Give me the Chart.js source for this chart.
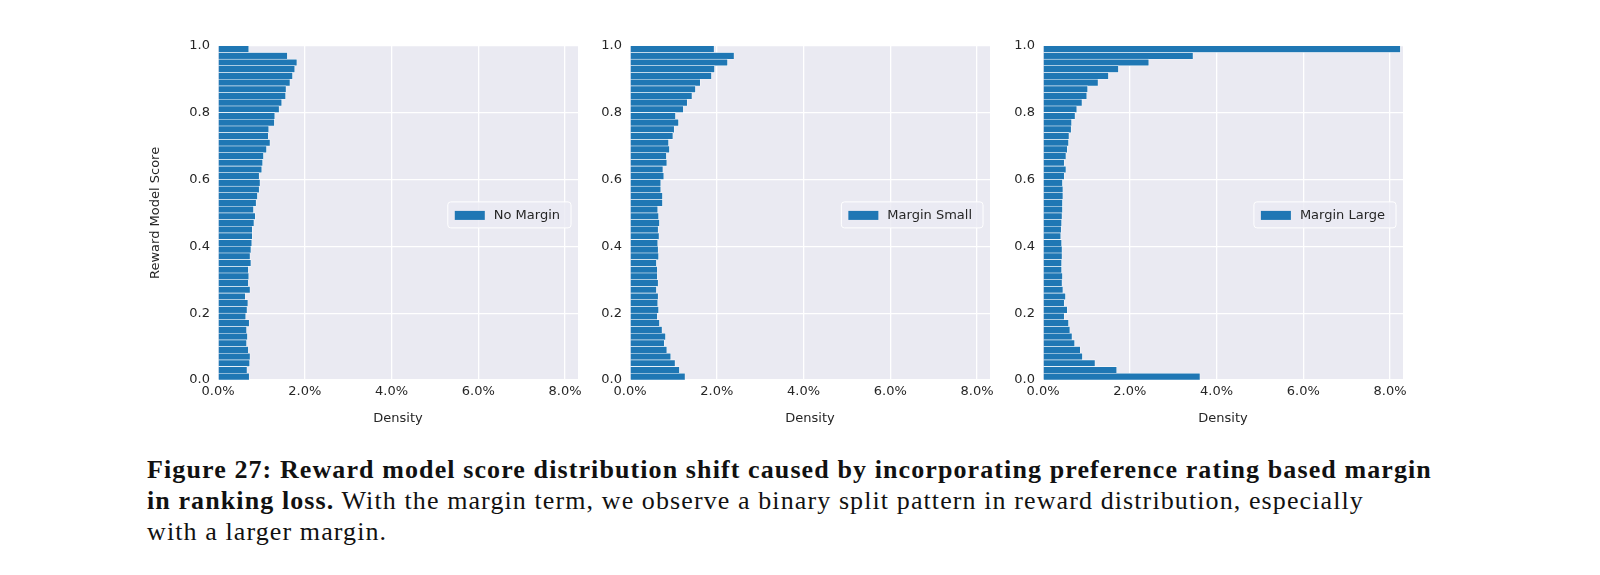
<!DOCTYPE html>
<html>
<head>
<meta charset="utf-8">
<script src="https://cdn.jsdelivr.net/npm/chart.js@4.4.1/dist/chart.umd.min.js"></script>
<style>
  body { margin: 0; background: #fff; width: 1600px; height: 575px; position: relative; overflow: hidden; }
  .panel { position: absolute; top: 30px; width: 445px; height: 400px; }
  .caption { position: absolute; left: 147px; top: 454px; width: 1400px; font-family: 'Liberation Serif', serif; font-size: 26px; letter-spacing: 1.1px; line-height: 31px; color: #111; }
</style>
</head>
<body>
<div class="panel" style="left:148px"><canvas id="c0"></canvas></div>
<div class="panel" style="left:560px"><canvas id="c1"></canvas></div>
<div class="panel" style="left:973px"><canvas id="c2"></canvas></div>
<div class="caption">
  <b>Figure 27: Reward model score distribution shift caused by incorporating preference rating based margin<br>in ranking loss.</b> With the margin term, we observe a binary split pattern in reward distribution, especially<br>with a larger margin.
</div>
<script>
// ===== Data (density in %, bins listed from score 1.0 down to 0.0) =====
const binCenters = [];
for (let i = 49; i >= 0; i--) binCenters.push((i + 0.5) / 50);

const noMargin = [0.71, 1.60, 1.82, 1.77, 1.72, 1.66, 1.57, 1.56, 1.47, 1.41,
  1.31, 1.30, 1.17, 1.16, 1.20, 1.12, 1.05, 1.03, 1.01, 0.95,
  0.97, 0.95, 0.91, 0.88, 0.82, 0.86, 0.83, 0.79, 0.79, 0.78,
  0.76, 0.74, 0.76, 0.70, 0.71, 0.70, 0.74, 0.63, 0.69, 0.67,
  0.64, 0.72, 0.66, 0.68, 0.66, 0.70, 0.74, 0.73, 0.67, 0.72];
const marginSmall = [1.94, 2.40, 2.25, 1.95, 1.88, 1.62, 1.51, 1.43, 1.32, 1.23,
  1.05, 1.12, 1.02, 0.99, 0.89, 0.91, 0.84, 0.85, 0.76, 0.78,
  0.71, 0.71, 0.75, 0.75, 0.64, 0.66, 0.68, 0.65, 0.67, 0.64,
  0.65, 0.66, 0.61, 0.63, 0.63, 0.65, 0.61, 0.65, 0.64, 0.66,
  0.63, 0.68, 0.74, 0.82, 0.79, 0.85, 0.94, 1.04, 1.14, 1.27];
const marginLarge = [8.24, 3.46, 2.44, 1.74, 1.51, 1.27, 1.03, 1.01, 0.90, 0.78,
  0.74, 0.66, 0.65, 0.60, 0.59, 0.56, 0.53, 0.49, 0.53, 0.49,
  0.45, 0.46, 0.46, 0.45, 0.45, 0.44, 0.43, 0.42, 0.41, 0.43,
  0.44, 0.44, 0.43, 0.43, 0.45, 0.44, 0.46, 0.52, 0.49, 0.56,
  0.49, 0.59, 0.62, 0.67, 0.73, 0.86, 0.91, 1.20, 1.70, 3.62];

const seriesNames = ['No Margin', 'Margin Small', 'Margin Large'];
const seriesValues = [noMargin, marginSmall, marginLarge];
const xTicks = [0, 2, 4, 6, 8];
const yTicks = [0, 0.2, 0.4, 0.6, 0.8, 1.0];

const BLUE = '#1f77b4';
const FONT = 'DejaVu Sans';

// seaborn-like background + legend box inside plot area
const sheet = {
  id: 'sheet',
  beforeDraw(chart) {
    const { ctx, chartArea: a } = chart;
    ctx.save();
    ctx.fillStyle = '#eaeaf2';
    ctx.fillRect(a.left, a.top, a.right - a.left, a.bottom - a.top);
    ctx.restore();
  },
  afterDraw(chart) {
    const { ctx, chartArea: a } = chart;
    const label = chart.data.datasets[0].label;
    ctx.save();
    ctx.font = '13px ' + FONT;
    const w = ctx.measureText(label).width + 57;
    const h = 26;
    const x = a.right - 7 - w;
    const y = (a.top + a.bottom) / 2 - h / 2 + 2;
    ctx.fillStyle = 'rgba(234,234,242,0.8)';
    ctx.strokeStyle = '#ffffff';
    ctx.lineWidth = 1;
    ctx.beginPath();
    ctx.roundRect(x, y, w, h, 3);
    ctx.fill();
    ctx.stroke();
    ctx.fillStyle = BLUE;
    ctx.fillRect(x + 7, y + 9, 30, 9);
    ctx.fillStyle = '#262626';
    ctx.textBaseline = 'middle';
    ctx.fillText(label, x + 46, y + h / 2 + 1);
    ctx.restore();
  }
};

seriesValues.forEach((vals, i) => {
  new Chart(document.getElementById('c' + i), {
    type: 'bar',
    data: {
      datasets: [{
        label: seriesNames[i],
        data: vals.map((v, k) => ({ x: v, y: binCenters[k] })),
        backgroundColor: BLUE,
        borderColor: '#ffffff',
        borderWidth: 0.6,
        barPercentage: 1,
        categoryPercentage: 1
      }]
    },
    options: {
      indexAxis: 'y',
      responsive: true,
      maintainAspectRatio: false,
      animation: false,
      layout: { autoPadding: false, padding: { top: 10, right: 15, left: 0, bottom: 0 } },
      plugins: { legend: { display: false }, tooltip: { enabled: false } },
      scales: {
        x: {
          type: 'linear', min: 0, max: 8.3, offset: false,
          afterBuildTicks: (s) => { s.ticks = xTicks.map(v => ({ value: v })); },
          afterFit: (s) => { s.height = 50; },
          grid: { color: '#ffffff', lineWidth: 1.3, drawTicks: false, offset: false },
          border: { display: false },
          ticks: { color: '#262626', font: { family: FONT, size: 13 }, padding: 4, callback: v => v.toFixed(1) + '%' },
          title: { display: true, text: 'Density', color: '#262626', font: { family: FONT, size: 13 }, padding: { top: 0, bottom: 4 } }
        },
        y: {
          type: 'linear', min: 0, max: 1, offset: false,
          afterBuildTicks: (s) => { s.ticks = yTicks.map(v => ({ value: v })); },
          afterFit: (s) => { s.width = 70; },
          grid: { color: '#ffffff', lineWidth: 1.3, drawTicks: false, offset: false },
          border: { display: false },
          ticks: { color: '#262626', font: { family: FONT, size: 13 }, padding: 8, callback: v => v.toFixed(1) },
          title: { display: i === 0, text: 'Reward Model Score', color: '#262626', font: { family: FONT, size: 13 }, padding: 0 }
        }
      }
    },
    plugins: [sheet]
  });
});
</script>
</body>
</html>
